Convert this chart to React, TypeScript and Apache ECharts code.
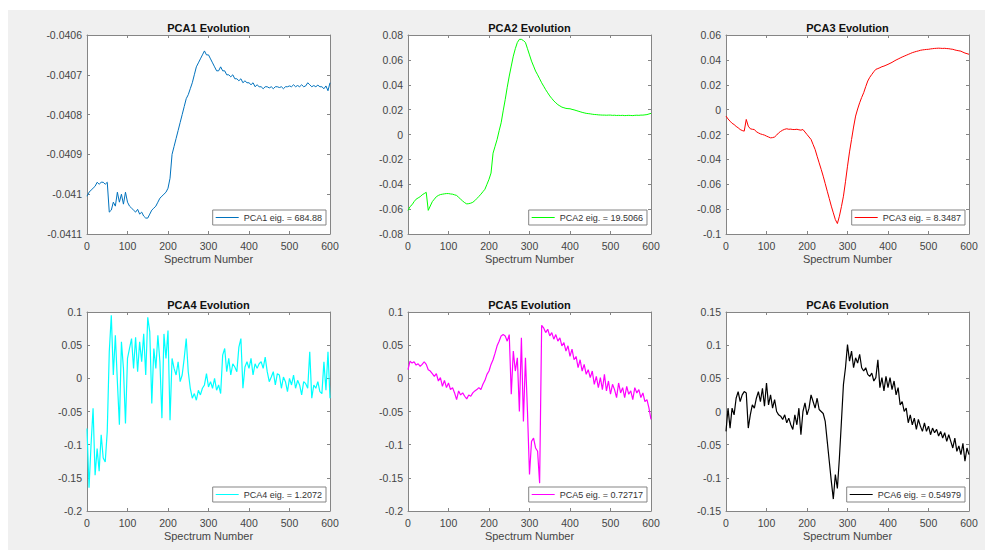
import * as echarts from "echarts";
import { useEffect, useRef } from "react";

// spectrum numbers sampled along x (every 5th spectrum)
const spectrum = [
  0, 5, 10, 15, 20, 25, 30, 35, 40, 45, 50, 55, 60, 65, 70, 75, 80, 85, 90, 95,
  100, 105, 110, 115, 120, 125, 130, 135, 140, 145, 150, 155, 160, 165, 170, 175, 180, 185, 190, 195,
  200, 205, 210, 215, 220, 225, 230, 235, 240, 245, 250, 255, 260, 265, 270, 275, 280, 285, 290, 295,
  300, 305, 310, 315, 320, 325, 330, 335, 340, 345, 350, 355, 360, 365, 370, 375, 380, 385, 390, 395,
  400, 405, 410, 415, 420, 425, 430, 435, 440, 445, 450, 455, 460, 465, 470, 475, 480, 485, 490, 495,
  500, 505, 510, 515, 520, 525, 530, 535, 540, 545, 550, 555, 560, 565, 570, 575, 580, 585, 590, 595,
  600,
];

const pca1 = [
  -0.041005, -0.040995, -0.04099, -0.040985, -0.04098, -0.04097, -0.040975, -0.04097, -0.04097, -0.040975,
  -0.04097, -0.041045, -0.04104, -0.04102, -0.04103, -0.040995, -0.04102, -0.041, -0.041025, -0.040995,
  -0.04102, -0.04103, -0.041035, -0.04104, -0.041045, -0.041038, -0.04105, -0.041045, -0.041055, -0.04106,
  -0.04106, -0.04105, -0.04104, -0.041035, -0.04103, -0.04102, -0.04101, -0.041005, -0.041, -0.040995,
  -0.040985, -0.04096, -0.0409, -0.04088, -0.04086, -0.04084, -0.04082, -0.0408, -0.04078, -0.04076,
  -0.04075, -0.040735, -0.04072, -0.0407, -0.04068, -0.04067, -0.04066, -0.04065, -0.04064, -0.04065,
  -0.04065, -0.04066, -0.04067, -0.04068, -0.04069, -0.04069, -0.04068, -0.04069, -0.04069, -0.0407,
  -0.0407, -0.040705, -0.0407, -0.04071, -0.04071, -0.040715, -0.04071, -0.04072, -0.040715, -0.04072,
  -0.04072, -0.040725, -0.04072, -0.04073, -0.040725, -0.04073, -0.04073, -0.040735, -0.04073, -0.04073,
  -0.040733, -0.04073, -0.040735, -0.04073, -0.04073, -0.040732, -0.04073, -0.040735, -0.04073, -0.04073,
  -0.040728, -0.04073, -0.040725, -0.04073, -0.040727, -0.04073, -0.040725, -0.04073, -0.040728, -0.04072,
  -0.040725, -0.04073, -0.040727, -0.04073, -0.040726, -0.04073, -0.04073, -0.040735, -0.040728, -0.04074,
  -0.04072,
];

const pca2 = [
  -0.061, -0.058, -0.0565, -0.054, -0.052, -0.051, -0.05, -0.0485, -0.0475, -0.0465,
  -0.061, -0.0575, -0.054, -0.052, -0.05, -0.049, -0.0483, -0.048, -0.0477, -0.0475,
  -0.0475, -0.0478, -0.048, -0.0485, -0.049, -0.0505, -0.052, -0.0535, -0.0548, -0.0558,
  -0.0556, -0.0552, -0.0545, -0.0532, -0.0515, -0.0498, -0.048, -0.046, -0.044, -0.04,
  -0.036, -0.031, -0.015, -0.0095, -0.004, 0.003, 0.0094, 0.019, 0.028, 0.038,
  0.047, 0.055, 0.063, 0.069, 0.074, 0.0765, 0.0765, 0.0755, 0.074, 0.069,
  0.064, 0.059, 0.055, 0.051, 0.048, 0.0448, 0.0416, 0.0388, 0.036, 0.0335,
  0.031, 0.029, 0.027, 0.0255, 0.024, 0.023, 0.022, 0.0215, 0.021, 0.0208,
  0.0207, 0.0202, 0.0198, 0.0193, 0.0188, 0.0183, 0.0178, 0.0174, 0.017, 0.0168,
  0.0166, 0.0163, 0.0161, 0.016, 0.0158, 0.0157, 0.0156, 0.0156, 0.0155, 0.0156,
  0.0156, 0.0154, 0.0155, 0.0153, 0.0154, 0.0153, 0.0154, 0.0152, 0.0153, 0.0154,
  0.0153, 0.0152, 0.0154, 0.0155, 0.0154, 0.0156, 0.0156, 0.0158, 0.016, 0.0165,
  0.017,
];

const pca3 = [
  -0.0052, -0.0075, -0.0093, -0.011, -0.012, -0.0135, -0.0146, -0.016, -0.0168, -0.0173,
  -0.0079, -0.0133, -0.0154, -0.0158, -0.016, -0.0178, -0.0187, -0.0195, -0.02, -0.0205,
  -0.0213, -0.022, -0.0227, -0.0225, -0.022, -0.0205, -0.0187, -0.0175, -0.0165, -0.0158,
  -0.0154, -0.0158, -0.0157, -0.016, -0.016, -0.0158, -0.0162, -0.0165, -0.016, -0.018,
  -0.02, -0.022, -0.024, -0.028, -0.032, -0.0375, -0.0428, -0.048, -0.0535, -0.0595,
  -0.0656, -0.0715, -0.0776, -0.083, -0.0884, -0.0916, -0.0857, -0.078, -0.0696, -0.058,
  -0.0455, -0.034, -0.024, -0.014, -0.0052, 0.0005, 0.0055, 0.0098, 0.0136, 0.0185,
  0.023, 0.026, 0.0283, 0.0305, 0.0324, 0.033, 0.0337, 0.0345, 0.035, 0.0357,
  0.0364, 0.0372, 0.038, 0.039, 0.0399, 0.0407, 0.0415, 0.0423, 0.043, 0.0437,
  0.0444, 0.0451, 0.0458, 0.0463, 0.0468, 0.0472, 0.0477, 0.048, 0.0482, 0.0484,
  0.0485, 0.0488, 0.049, 0.0492, 0.0493, 0.0494, 0.0493, 0.0492, 0.0493, 0.0491,
  0.049, 0.0487, 0.0485, 0.048, 0.0476, 0.0473, 0.047, 0.0462, 0.0455, 0.045,
  0.0445,
];

const pca4 = [
  -0.0755, -0.165, -0.1, -0.045, -0.146, -0.106, -0.14, -0.085, -0.12, -0.126,
  -0.08, 0.04, 0.095, 0.005, 0.065, -0.005, -0.07, 0.055, 0.015, -0.068,
  0.03, 0.045, 0.06, 0.015, 0.062, 0.01, 0.055, 0.025, 0.067, 0.005,
  0.092, 0.07, -0.038, 0.045, 0.015, 0.065, 0.025, -0.06, 0.067, 0.03,
  0.072, -0.063, 0.03, 0.015, 0.005, 0.025, -0.005, 0.005, 0.03, 0.06,
  0.01, -0.015, -0.03, -0.023, -0.033, -0.018, -0.025, -0.015, -0.01, 0.007,
  -0.013, -0.005, -0.015, 0, -0.018, -0.01, -0.023, 0.035, 0.045, 0.01,
  0.03, 0.005, 0.022, 0.017, 0.01, 0.047, 0.06, -0.015, 0.017, 0.025,
  0.015, 0.03, 0.005, 0.022, 0.015, 0.022, 0.025, 0.015, 0.032, 0.01,
  -0.005, 0.002, 0.01, -0.01, 0.007, 0.005, -0.015, 0.002, -0.005, -0.02,
  0, -0.01, 0.005, -0.015, -0.003, -0.01, -0.025, -0.005, -0.008, -0.015,
  0.04, -0.03, -0.01, -0.015, -0.005, -0.02, -0.023, 0.025, -0.018, 0.04,
  -0.03,
];

const pca5 = [
  0.013, 0.026, 0.023, 0.025, 0.02, 0.022, 0.018, 0.021, 0.025, 0.021,
  0.013, 0.011, 0.007, 0.003, 0.007, -0.004, 0.001, -0.012, -0.003, -0.014,
  -0.007, -0.017, -0.014, -0.022, -0.032, -0.019, -0.025, -0.022, -0.027, -0.031,
  -0.025, -0.027, -0.022, -0.019, -0.017, -0.014, -0.017, -0.009, -0.003, 0.006,
  0.011, 0.021, 0.028, 0.038, 0.049, 0.056, 0.064, 0.066, 0.064, 0.056,
  0.066, -0.024, 0.041, 0.011, 0.031, -0.05, 0.061, -0.065, 0.031, -0.05,
  -0.145, -0.095, -0.09, -0.105, -0.11, -0.158, 0.08, 0.076, 0.069, 0.074,
  0.064, 0.069, 0.059, 0.066, 0.056, 0.061, 0.049, 0.054, 0.041, 0.049,
  0.033, 0.044, 0.028, 0.033, 0.016, 0.028, 0.011, 0.021, 0.006, 0.013,
  0.001, 0.011, -0.009, 0.003, -0.014, 0.001, -0.017, 0.006, -0.019, -0.004,
  -0.024, -0.009, -0.017, -0.029, -0.007, -0.022, -0.014, -0.029, -0.012, -0.024,
  -0.019, -0.032, -0.014, -0.022, -0.017, -0.029, -0.022, -0.035, -0.032, -0.045,
  -0.062,
];

const pca6 = [
  -0.03, 0.005, -0.025, 0.005, -0.005, 0.02, 0.03, 0.015, 0.025, 0.03,
  0.028, -0.025, -0.005, 0.01, 0.005, 0.02, 0.03, 0.015, 0.035, 0.008,
  0.043, 0.01, 0.025, 0.005, 0.018, 0, -0.005, -0.007, -0.012, -0.005,
  -0.017, -0.01, -0.02, -0.027, -0.005, -0.02, 0.005, -0.035, 0, 0.013,
  -0.005, 0.005, 0.025, 0.015, 0.005, 0.02, 0.003, 0, -0.003, -0.015,
  -0.045, -0.075, -0.105, -0.132, -0.095, -0.116, -0.07, -0.015, 0.041, 0.066,
  0.101, 0.076, 0.091, 0.066, 0.081, 0.073, 0.086, 0.066, 0.061, 0.066,
  0.056, 0.053, 0.058, 0.046, 0.051, 0.078, 0.036, 0.051, 0.031, 0.053,
  0.036, 0.051, 0.033, 0.046, 0.025, 0.036, 0.01, 0.015, 0, 0.005,
  -0.017, -0.005, -0.02, -0.01, -0.027, -0.012, -0.022, -0.03, -0.017, -0.03,
  -0.022, -0.035, -0.025, -0.032, -0.027, -0.037, -0.03, -0.04, -0.032, -0.045,
  -0.035, -0.045, -0.055, -0.04, -0.06, -0.052, -0.065, -0.048, -0.075, -0.055,
  -0.065,
];

const titles = ["PCA1 Evolution", "PCA2 Evolution", "PCA3 Evolution", "PCA4 Evolution", "PCA5 Evolution", "PCA6 Evolution"];
const legendLabels = [
  "PCA1 eig. = 684.88",
  "PCA2 eig. = 19.5066",
  "PCA3 eig. = 8.3487",
  "PCA4 eig. = 1.2072",
  "PCA5 eig. = 0.72717",
  "PCA6 eig. = 0.54979",
];
const lineColors = ["#0072bd", "#00ff00", "#ff0000", "#00ffff", "#ff00ff", "#000000"];
const lineWidths = [1, 1, 1, 1.2, 1.2, 1.2];
const yMin = [-0.0411, -0.08, -0.1, -0.2, -0.2, -0.15];
const yMax = [-0.0406, 0.08, 0.06, 0.1, 0.1, 0.15];
const yStep = [0.0001, 0.02, 0.02, 0.05, 0.05, 0.05];
const xName = "Spectrum Number";

const FONT = '"Liberation Sans", Arial, Helvetica, sans-serif';
const AXIS = "#858585";
const LABEL = "#454545";

// chart is placed at (8, 10) on the page, so boxes below are in chart px
const CHART_W = 977;
const CHART_H = 540;
const colLeft = [79, 400, 718];
const rowTop = [25, 302];
const PANEL_W = 243;
const PANEL_H = 199;

const fmt = (v: number) => String(parseFloat(v.toFixed(6)));

export default function App() {
  const chartRef = useRef<HTMLDivElement | null>(null);

  useEffect(() => {
    document.body.style.margin = "0";
    if (!chartRef.current) return;
    const chart = echarts.init(chartRef.current, null, { renderer: "svg" });

    const values = [pca1, pca2, pca3, pca4, pca5, pca6];
    const grid: any[] = [];
    const xAxis: any[] = [];
    const yAxis: any[] = [];
    const title: any[] = [];
    const legend: any[] = [];
    const series: any[] = [];

    const tick = { show: true, inside: true, length: 3, lineStyle: { color: AXIS, width: 1 } };
    const line = { show: true, onZero: false, lineStyle: { color: AXIS, width: 1 } };

    values.forEach((vals, i) => {
      const left = colLeft[i % 3];
      const top = rowTop[Math.floor(i / 3)];
      grid.push({ left, top, width: PANEL_W, height: PANEL_H, show: true, backgroundColor: "#fff", borderWidth: 0 });

      const xBase = { type: "value", gridIndex: i, min: 0, max: 600, interval: 100, splitLine: { show: false }, axisLine: line, axisTick: tick };
      xAxis.push({
        ...xBase,
        position: "bottom",
        axisLabel: { color: LABEL, fontSize: 10.5, fontFamily: FONT, margin: 6 },
        name: xName,
        nameLocation: "middle",
        nameGap: 19,
        nameTextStyle: { color: LABEL, fontSize: 11, fontFamily: FONT },
      });
      xAxis.push({ ...xBase, position: "top", axisLabel: { show: false } });

      const yBase = { type: "value", gridIndex: i, min: yMin[i], max: yMax[i], interval: yStep[i], splitLine: { show: false }, axisLine: line, axisTick: tick };
      yAxis.push({
        ...yBase,
        position: "left",
        axisLabel: { color: LABEL, fontSize: 10.5, fontFamily: FONT, margin: 5, formatter: fmt },
      });
      yAxis.push({ ...yBase, position: "right", axisLabel: { show: false } });

      title.push({
        text: titles[i],
        left: left + PANEL_W / 2,
        top: top - 13,
        textAlign: "center",
        padding: 0,
        textStyle: { fontSize: 11, fontWeight: "bold", color: "#111", fontFamily: FONT },
      });

      legend.push({
        data: [{ name: legendLabels[i], icon: "rect" }],
        right: CHART_W - (left + PANEL_W - 4),
        top: top + PANEL_H - 24,
        orient: "horizontal",
        selectedMode: false,
        backgroundColor: "#fff",
        borderColor: AXIS,
        borderWidth: 1,
        borderRadius: 0,
        padding: [2, 4, 2, 3],
        itemWidth: 23,
        itemHeight: 1,
        itemGap: 0,
        textStyle: { fontSize: 9, color: "#333", fontFamily: FONT, lineHeight: 11 },
      });

      series.push({
        type: "line",
        name: legendLabels[i],
        xAxisIndex: i * 2,
        yAxisIndex: i * 2,
        symbol: "none",
        silent: true,
        lineStyle: { color: lineColors[i], width: lineWidths[i] },
        itemStyle: { color: lineColors[i] },
        data: spectrum.map((x, k) => [x, vals[k]]),
      });
    });

    chart.setOption({
      animation: false,
      backgroundColor: "#f0f0f0",
      textStyle: { fontFamily: FONT },
      grid,
      xAxis,
      yAxis,
      title,
      legend,
      series,
    });

    return () => {
      chart.dispose();
    };
  }, []);

  return (
    <div style={{ width: 985, height: 550, background: "#fff", paddingLeft: 8, paddingTop: 10, boxSizing: "border-box", overflow: "hidden" }}>
      <div ref={chartRef} style={{ width: CHART_W, height: CHART_H }} />
    </div>
  );
}
